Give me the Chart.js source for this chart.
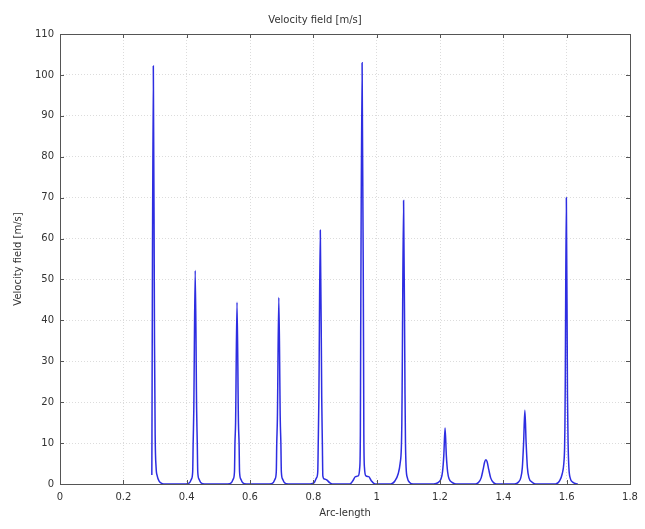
<!DOCTYPE html>
<html>
<head>
<meta charset="utf-8">
<title>Velocity field [m/s]</title>
<script src="https://cdn.jsdelivr.net/npm/chart.js@4/dist/chart.umd.min.js"></script>
<style>
    html, body { margin: 0; padding: 0; background: #fff; }
    #wrap { width: 645px; height: 529px; position: relative; }
</style>
</head>
<body>
<div id="wrap"><canvas id="chart"></canvas></div>
<script>
// 横轴刻度 / 纵轴刻度
const xTicks = [0, 0.2, 0.4, 0.6, 0.8, 1, 1.2, 1.4, 1.6, 1.8];
const yTicks = [0, 10, 20, 30, 40, 50, 60, 70, 80, 90, 100, 110];

// 曲线数据（按图读取，每个峰一段）
const arcLength = [
    // peak 1
    0.2900, 0.2947, 0.2985, 0.3005, 0.3035, 0.3070, 0.3130, 0.3230, 0.3330,
    // peak 2
    0.397, 0.410, 0.415, 0.419, 0.4205, 0.4225, 0.427, 0.4315, 0.4335, 0.435, 0.439, 0.444, 0.457,
    // peak 3
    0.529, 0.542, 0.547, 0.551, 0.5525, 0.5545, 0.559, 0.5635, 0.5655, 0.567, 0.571, 0.576, 0.589,
    // peak 4
    0.661, 0.674, 0.679, 0.683, 0.6845, 0.6865, 0.691, 0.6955, 0.6975, 0.699, 0.703, 0.708, 0.721,
    // peak 5
    0.790, 0.804, 0.810, 0.814, 0.8155, 0.8175, 0.822, 0.8265, 0.8285, 0.830, 0.835, 0.842, 0.852, 0.860,
    // peak 6
    0.915, 0.925, 0.933, 0.942, 0.9465, 0.9485, 0.9495, 0.954, 0.9585, 0.9595, 0.9615, 0.966, 0.975, 0.983, 0.995,
    // peak 7
    1.045, 1.058, 1.068, 1.074, 1.078, 1.0795, 1.0805, 1.085, 1.0895, 1.0910, 1.093, 1.097, 1.104, 1.115,
    // peak 8
    1.180, 1.195, 1.203, 1.208, 1.212, 1.216, 1.220, 1.224, 1.229, 1.238, 1.250,
    // peak 9
    1.312, 1.322, 1.330, 1.336, 1.341, 1.345, 1.349, 1.354, 1.360, 1.368, 1.378,
    // peak 10
    1.435, 1.448, 1.455, 1.460, 1.464, 1.468, 1.472, 1.476, 1.481, 1.490, 1.502,
    // peak 11
    1.565, 1.578, 1.586, 1.591, 1.5935, 1.5945, 1.5955, 1.599, 1.6025, 1.6045, 1.607, 1.611, 1.620, 1.635
];

const velocity = [
    // peak 1
    2.2, 102.2, 34, 12, 4, 2, 0.7, 0.1, 0,
    // peak 2
    0, 0.4, 1.2, 3, 10, 18, 52.2, 18, 10, 3, 1.2, 0.4, 0,
    // peak 3
    0, 0.4, 1.2, 3, 10, 15, 44.4, 15, 10, 3, 1.2, 0.4, 0,
    // peak 4
    0, 0.4, 1.2, 3, 10, 16, 45.6, 16, 10, 3, 1.2, 0.4, 0,
    // peak 5
    0, 0.5, 1.5, 3, 10, 21, 62, 21, 10, 2, 1.2, 1, 0.3, 0,
    // peak 6
    0, 0.8, 1.8, 2, 4, 12, 35, 103, 35, 12, 4, 2, 1.8, 0.8, 0,
    // peak 7
    0, 0.8, 2.5, 5, 9, 15, 24, 69.3, 22, 10, 4, 1.5, 0.4, 0,
    // peak 8
    0, 0.4, 1.2, 3, 7, 13.7, 7, 3, 1.2, 0.4, 0,
    // peak 9
    0, 0.4, 1.5, 3.5, 5.4, 5.9, 5.4, 3.5, 1.5, 0.4, 0,
    // peak 10
    0, 0.5, 1.5, 4, 10, 18, 10, 4, 1.5, 0.5, 0,
    // peak 11
    0, 0.8, 2.5, 5, 9, 14, 24, 70, 22, 10, 4, 1.5, 0.4, 0
];

const FONT = { family: 'DejaVu Sans', size: 10 };
const TEXT_COLOR = '#333';

// 绘制外框和向内的刻度线
const boxPlugin = {
    id: 'boxTicks',
    afterDraw(chart) {
        const { ctx, chartArea: a, scales } = chart;
        ctx.save();
        ctx.strokeStyle = '#555';
        ctx.lineWidth = 1;
        ctx.beginPath();
        xTicks.forEach(v => {
            const px = Math.round(scales.x.getPixelForValue(v)) + 0.5;
            ctx.moveTo(px, a.bottom); ctx.lineTo(px, a.bottom - 4);
            ctx.moveTo(px, a.top); ctx.lineTo(px, a.top + 4);
        });
        yTicks.forEach(v => {
            const py = Math.round(scales.y.getPixelForValue(v)) + 0.5;
            ctx.moveTo(a.left, py); ctx.lineTo(a.left + 4, py);
            ctx.moveTo(a.right, py); ctx.lineTo(a.right - 4, py);
        });
        ctx.stroke();
        ctx.strokeRect(Math.round(a.left) + 0.5, Math.round(a.top) + 0.5,
            Math.round(a.right - a.left), Math.round(a.bottom - a.top));
        ctx.restore();
    }
};

const gridOpts = {
    color: '#dcdcdc',
    drawTicks: false,
    lineWidth: 1
};

const ctx = document.getElementById('chart').getContext('2d');
new Chart(ctx, {
    type: 'line',
    data: {
        datasets: [{
            label: 'Velocity field [m/s]',
            data: arcLength.map((x, i) => ({ x: x, y: velocity[i] })),
            borderColor: 'rgb(45, 45, 225)',
            borderWidth: 1.5,
            pointRadius: 0,
            fill: false,
            cubicInterpolationMode: 'monotone'
        }]
    },
    options: {
        responsive: true,
        maintainAspectRatio: false,
        animation: false,
        layout: { padding: { top: 0, right: 15, bottom: 0, left: 0 } },
        plugins: {
            legend: { display: false },
            tooltip: { enabled: false },
            title: {
                display: true,
                text: 'Velocity field [m/s]',
                color: TEXT_COLOR,
                font: { ...FONT, weight: 'normal' },
                padding: { top: 14, bottom: 8 }
            }
        },
        scales: {
            x: {
                type: 'linear',
                min: 0,
                max: 1.8,
                afterBuildTicks: s => { s.ticks = xTicks.map(v => ({ value: v })); },
                afterFit: s => { s.height = 45; },
                grid: { ...gridOpts },
                border: { display: false, dash: [1, 2] },
                ticks: {
                    color: TEXT_COLOR,
                    font: FONT,
                    padding: 7,
                    maxRotation: 0,
                    callback: v => String(Number(v.toFixed(1)))
                },
                title: {
                    display: true,
                    text: 'Arc-length',
                    color: TEXT_COLOR,
                    font: FONT,
                    padding: { top: 0, bottom: 10 }
                }
            },
            y: {
                min: 0,
                max: 110,
                afterBuildTicks: s => { s.ticks = yTicks.map(v => ({ value: v })); },
                afterFit: s => { s.width = 60; },
                grid: { ...gridOpts },
                border: { display: false, dash: [1, 2] },
                ticks: { color: TEXT_COLOR, font: FONT, padding: 6 },
                title: {
                    display: true,
                    text: 'Velocity field [m/s]',
                    color: TEXT_COLOR,
                    font: FONT,
                    padding: { top: 12, bottom: 0 }
                }
            }
        }
    },
    plugins: [boxPlugin]
});
</script>
</body>
</html>
